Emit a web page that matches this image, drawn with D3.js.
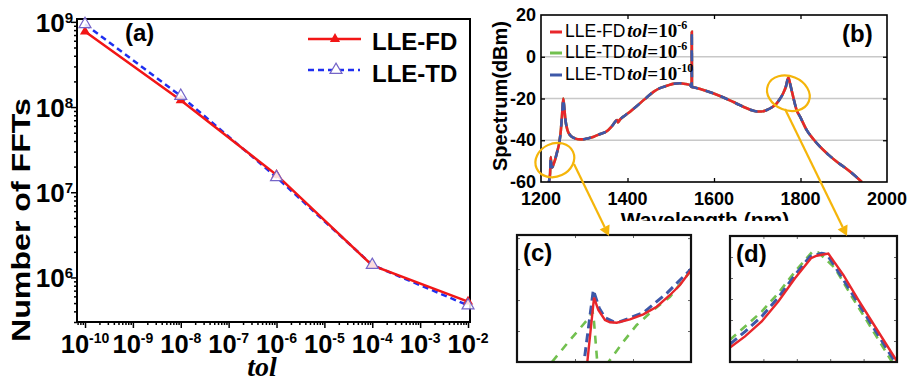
<!DOCTYPE html>
<html><head><meta charset="utf-8">
<script src="https://cdn.jsdelivr.net/npm/d3@7"></script>
<style>
body{margin:0;background:#fff}
svg{display:block}
</style>
</head><body>
<svg id="c" width="907" height="383" font-family="'Liberation Sans',Arial,sans-serif"></svg>
<script>
// ---------- DATA ----------
// panel (a)
const tolValues = [1e-10, 1e-8, 1e-6, 1e-4, 1e-2];
const fftFD = [7.7e8, 1.2e8, 1.6e7, 1.38e6, 5.2e5];
const fftTD = [9.4e8, 1.35e8, 1.5e7, 1.4e6, 4.7e5];
const tolTickExps = [-10, -9, -8, -7, -6, -5, -4, -3, -2];
const fftTickExps = [6, 7, 8, 9];
const seriesA = ["LLE-FD", "LLE-TD"];

// panel (b)
const specWl = [1217,1221,1222.4,1224,1226,1229,1233,1238,1242,1246,1249,1251.5,1254,1257,1261,1267,1275,1285,1295,1310,1322,1337,1352,1365,1376,1378,1383,1395,1406,1421,1440,1460,1475,1491,1505,1521,1535,1545,1548.3,1548.7,1549.1,1552,1570,1598,1622,1645,1660,1676,1690,1700,1710,1722,1735,1745,1753,1760,1766,1772,1776,1780,1784,1791,1799,1814,1830,1845,1865,1884,1900,1915,1942];
const specDb = [-61,-56,-48,-52,-53,-51.5,-49,-45,-41.5,-35,-27,-20,-25,-31,-35,-37.5,-38.8,-39.5,-39.6,-39,-38.3,-37,-35.7,-33,-30.3,-31.5,-30,-28,-26.3,-23.7,-20.3,-16.8,-15,-13.9,-13,-12.7,-13.1,-13.6,-14.5,12,-14.5,-14.6,-15.6,-17.5,-19.5,-21.7,-23.2,-24.7,-25.8,-26.2,-26.2,-25.5,-24.1,-22.3,-20,-17.5,-14.5,-10,-13,-16.5,-20,-25.5,-28.7,-35,-39.5,-43.1,-47,-50.3,-52.7,-55.1,-60];
const specXTicks = [1200, 1400, 1600, 1800, 2000];
const specYTicks = [20, 0, -20, -40, -60];
const specGrid = [0, -20, -40];
const legendB = [["LLE-FD", "-6"], ["LLE-TD", "-6"], ["LLE-TD", "-10"]];

// panel (c) zoom near 1230 nm
const cRedWl = [1231.98,1233.28,1234.02,1235.17,1236.03,1237.19,1239.48,1241.78,1244.09,1246.38,1248.10,1250.0];
const cRedDb = [-62.6,-39.24,-43.21,-46.44,-47.18,-47.31,-46.22,-44.60,-42.15,-38.37,-35.14,-30.4];
const cBlueWl = [1231.38,1231.55,1233.16,1234.19,1235.17,1236.60,1237.76,1241.78,1245.81,1250.0];
const cBlueDb = [-62.6,-60.1,-36.76,-42.67,-45.70,-46.99,-46.99,-44.09,-37.82,-30.0];
const cGreenWl = [1224.83,1225.98,1229.14,1232.59,1233.02,1233.28,1233.84,1234.14,1235.34,1235.74,1238.33,1240.64,1243.50,1246.38,1250.0];
const cGreenDb = [-64.2,-60.1,-52.9,-45.38,-43.54,-47.09,-60.1,-67.4,-67.4,-60.1,-53.45,-48.06,-43.21,-38.92,-30.46];
const cXTicks = [1230, 1240];
const cYTicks = [-50, -40, -30, -20];

// panel (d) zoom near 1770 nm
const dRedWl = [1755,1757.25,1759.75,1762.23,1764.73,1767.13,1767.98,1769.72,1771.96,1774.21,1776.71,1780];
const dRedDb = [-15.31,-14.78,-14.07,-13.12,-12.01,-11.06,-10.94,-10.84,-11.85,-13.04,-14.31,-15.97];
const dBlueWl = [1755,1757.25,1759.75,1762.23,1764.73,1766.98,1768.73,1769.48,1771.21,1773.71,1776.21,1779.70,1780];
const dBlueDb = [-15.15,-14.55,-13.83,-12.93,-11.85,-10.98,-10.82,-10.87,-11.70,-12.96,-14.23,-16.0,-16.2];
const dGreenWl = [1755,1757.25,1759.75,1762.23,1764.73,1767.32,1768.22,1770.72,1773.22,1775.70,1779.21,1780];
const dGreenDb = [-14.94,-14.31,-13.60,-12.72,-11.70,-10.75,-10.78,-11.53,-12.88,-14.15,-15.97,-16.3];
const dXTicks = [1760, 1765, 1770, 1775];
const dYTicks = [-15, -14, -13, -12, -11];

// ---------- STYLE ----------
const RED_A = "#f21616", BLUE_A = "#1f2ff0", PURPLE = "#7565c8";
const RED = "#e8262b", GREEN = "#72c04f", BLUE = "#3d58a8", GOLD = "#f5b50a";
const SERIF = "'Liberation Serif','Times New Roman',serif";

const svg = d3.select("#c");
const defs = svg.append("defs");
function clip(id, x0, y0, x1, y1) {
  defs.append("clipPath").attr("id", id).append("rect")
    .attr("x", x0).attr("y", y0).attr("width", x1 - x0).attr("height", y1 - y0);
}
const zip = (xs, ys) => xs.map((x, i) => [x, ys[i]]);

// ================= PANEL (a) =================
const A = {l: 77, r: 470, t: 19, b: 322};
const ax = d3.scaleLog().domain([6.8e-11, 1.1e-2]).range([A.l, A.r]);
const ay = d3.scaleLog().domain([3e5, 1.08e9]).range([A.b, A.t]);
function minors(scale) {
  const [d0, d1] = scale.domain(), out = [];
  for (let e = Math.floor(Math.log10(d0)); e <= Math.ceil(Math.log10(d1)); e++)
    for (let k = 2; k <= 9; k++) { const v = k * Math.pow(10, e); if (v >= d0 && v <= d1) out.push(v); }
  return out;
}
const gA = svg.append("g");
const axMaj = tolTickExps.map(e => Math.pow(10, e));
const ayMaj = fftTickExps.map(e => Math.pow(10, e));
[[axMaj, 6], [minors(ax), 3]].forEach(([vals, len]) => {
  const g = gA.append("g").attr("transform", `translate(0,${A.b})`)
    .call(d3.axisBottom(ax).tickValues(vals).tickSize(len).tickFormat(""));
  g.select(".domain").remove();
  g.selectAll("line").attr("stroke", "#000").attr("stroke-width", 1.5);
});
[[ayMaj, 6], [minors(ay), 3]].forEach(([vals, len]) => {
  const g = gA.append("g").attr("transform", `translate(${A.l},0)`)
    .call(d3.axisLeft(ay).tickValues(vals).tickSize(len).tickFormat(""));
  g.select(".domain").remove();
  g.selectAll("line").attr("stroke", "#000").attr("stroke-width", 1.5);
});
gA.append("rect").attr("x", A.l).attr("y", A.t).attr("width", A.r - A.l).attr("height", A.b - A.t)
  .attr("fill", "none").attr("stroke", "#000").attr("stroke-width", 2);

tolTickExps.forEach(e => {
  const t = gA.append("text").attr("x", ax(Math.pow(10, e))).attr("y", A.b + 31)
    .attr("text-anchor", "middle").attr("font-weight", "bold").attr("font-size", 25.5);
  t.append("tspan").text("10");
  t.append("tspan").attr("dy", -10).attr("font-size", 14).text(e);
});
fftTickExps.forEach(e => {
  const t = gA.append("text").attr("x", A.l - 4).attr("y", ay(Math.pow(10, e)) + 10)
    .attr("text-anchor", "end").attr("font-weight", "bold").attr("font-size", 26);
  t.append("tspan").text("10");
  t.append("tspan").attr("dy", -9).attr("font-size", 15).text(e);
});
gA.append("text").attr("transform", "translate(30,220) rotate(-90)")
  .attr("text-anchor", "middle").attr("font-weight", "bold").attr("font-size", 26)
  .attr("textLength", 244).attr("lengthAdjust", "spacingAndGlyphs").text("Number of FFTs");
gA.append("text").attr("x", 262).attr("y", 376).attr("text-anchor", "middle")
  .attr("font-family", SERIF).attr("font-style", "italic").attr("font-weight", "bold")
  .attr("font-size", 28).text("tol");
gA.append("text").attr("x", 125).attr("y", 41).attr("font-weight", "bold").attr("font-size", 24).text("(a)");

const lineA = d3.line().x(d => ax(d[0])).y(d => ay(d[1]));
const tdPts = zip(tolValues, fftTD), fdPts = zip(tolValues, fftFD);
gA.append("path").attr("d", lineA(tdPts)).attr("fill", "none").attr("stroke", BLUE_A)
  .attr("stroke-width", 2.5).attr("stroke-dasharray", "6,4");
gA.append("path").attr("d", lineA(fdPts)).attr("fill", "none").attr("stroke", RED_A).attr("stroke-width", 2.5);
const triFill = d3.symbol(d3.symbolTriangle).size(45)();
const triOpen = d3.symbol(d3.symbolTriangle).size(62)();
gA.selectAll(".fd").data(fdPts).join("path").attr("d", triFill)
  .attr("transform", d => `translate(${ax(d[0])},${ay(d[1])})`).attr("fill", RED_A);
gA.selectAll(".td").data(tdPts).join("path").attr("d", triOpen)
  .attr("transform", d => `translate(${ax(d[0])},${ay(d[1])})`)
  .attr("fill", "#fff").attr("fill-opacity", 0.85).attr("stroke", PURPLE).attr("stroke-width", 1.2);

const legA = gA.append("g");
legA.append("line").attr("x1", 308).attr("x2", 361).attr("y1", 39).attr("y2", 39).attr("stroke", RED_A).attr("stroke-width", 2.5);
legA.append("path").attr("d", triFill).attr("transform", "translate(335,39)").attr("fill", RED_A);
legA.append("line").attr("x1", 308).attr("x2", 360).attr("y1", 70).attr("y2", 70).attr("stroke", BLUE_A)
  .attr("stroke-width", 2.5).attr("stroke-dasharray", "6,4");
legA.append("path").attr("d", triOpen).attr("transform", "translate(336,70)")
  .attr("fill", "#fff").attr("stroke", PURPLE).attr("stroke-width", 1.2);
seriesA.forEach((s, i) => legA.append("text").attr("x", 372).attr("y", 50 + i * 32)
  .attr("font-weight", "bold").attr("font-size", 24).text(s));

// ================= PANEL (b) =================
const B = {l: 541, r: 887, t: 15, b: 182};
const bx = d3.scaleLinear().domain([1200, 2000]).range([B.l, B.r]);
const by = d3.scaleLinear().domain([-60, 20]).range([B.b, B.t]);
const gB = svg.append("g");
clip("clipB", B.l, B.t, B.r, B.b);
gB.selectAll(".grid").data(specGrid).join("line")
  .attr("x1", B.l).attr("x2", B.r).attr("y1", d => by(d)).attr("y2", d => by(d))
  .attr("stroke", "#c8c8c8").attr("stroke-width", 1.6);
[[d3.axisBottom(bx), B.t], [d3.axisTop(bx), B.b]].forEach(([ax_, y]) => {
  const g = gB.append("g").attr("transform", `translate(0,${y})`)
    .call(ax_.tickValues(specXTicks.slice(1, -1)).tickSize(4).tickFormat(""));
  g.select(".domain").remove(); g.selectAll("line").attr("stroke", "#000").attr("stroke-width", 1.3);
});
[[d3.axisRight(by), B.l], [d3.axisLeft(by), B.r]].forEach(([ay_, x]) => {
  const g = gB.append("g").attr("transform", `translate(${x},0)`)
    .call(ay_.tickValues(specYTicks.slice(1, -1)).tickSize(4).tickFormat(""));
  g.select(".domain").remove(); g.selectAll("line").attr("stroke", "#000").attr("stroke-width", 1.3);
});
const specPts = zip(specWl, specDb);
const lineB = d3.line().x(d => bx(d[0])).y(d => by(d[1])).curve(d3.curveMonotoneX);
const cg = gB.append("g").attr("clip-path", "url(#clipB)");
cg.append("path").attr("d", lineB(specPts)).attr("fill", "none").attr("stroke", GREEN).attr("stroke-width", 2.6);
cg.append("path").attr("d", lineB(specPts)).attr("fill", "none").attr("stroke", RED).attr("stroke-width", 2.6);
cg.append("path").attr("d", lineB(specPts)).attr("fill", "none").attr("stroke", BLUE).attr("stroke-width", 2.6)
  .attr("stroke-dasharray", "8,8");
gB.append("rect").attr("x", B.l).attr("y", B.t).attr("width", B.r - B.l).attr("height", B.b - B.t)
  .attr("fill", "none").attr("stroke", "#000").attr("stroke-width", 1.6);
specXTicks.forEach(v => gB.append("text").attr("x", bx(v)).attr("y", 205).attr("text-anchor", "middle")
  .attr("font-weight", "bold").attr("font-size", 18).text(v));
specYTicks.forEach(v => gB.append("text").attr("x", 536).attr("y", by(v) + 6).attr("text-anchor", "end")
  .attr("font-weight", "bold").attr("font-size", 18).text(v));
clip("clipXlab", 540, 206, 900, 221);
gB.append("text").attr("x", 705).attr("y", 227).attr("text-anchor", "middle").attr("clip-path", "url(#clipXlab)")
  .attr("font-weight", "bold").attr("font-size", 21).text("Wavelength (nm)");
gB.append("text").attr("transform", "translate(507,96) rotate(-90)").attr("text-anchor", "middle")
  .attr("font-weight", "bold").attr("font-size", 20).text("Spectrum(dBm)");
gB.append("text").attr("x", 842).attr("y", 42).attr("font-weight", "bold").attr("font-size", 24).text("(b)");
const legColors = [RED, GREEN, BLUE];
legendB.forEach(([name, exp], i) => {
  const yy = [32, 53, 75][i], yb = [37, 58, 80][i];
  gB.append("line").attr("x1", 550).attr("x2", 562).attr("y1", yy).attr("y2", yy)
    .attr("stroke", legColors[i]).attr("stroke-width", 3);
  const t = gB.append("text").attr("x", 565).attr("y", yb).attr("font-size", 17.5);
  t.append("tspan").text(name);
  t.append("tspan").attr("dx", 2).attr("font-family", SERIF).attr("font-style", "italic").attr("font-weight", "bold")
    .attr("font-size", 19).text("tol");
  t.append("tspan").attr("font-family", SERIF).attr("font-weight", "bold").attr("font-size", 19).text("=10");
  t.append("tspan").attr("dy", -8).attr("font-family", SERIF).attr("font-weight", "bold").attr("font-size", 12).text(exp);
});

// ================= INSETS =================
function inset(id, box, xd, yd, xt, yt, series, label) {
  const sx = d3.scaleLinear().domain(xd).range([box.l, box.r]);
  const sy = d3.scaleLinear().domain(yd).range([box.b, box.t]);
  const g = svg.append("g");
  clip(id, box.l, box.t, box.r, box.b);
  [[d3.axisBottom(sx), box.t], [d3.axisTop(sx), box.b]].forEach(([a, y]) => {
    const gg = g.append("g").attr("transform", `translate(0,${y})`).call(a.tickValues(xt).tickSize(3).tickFormat(""));
    gg.select(".domain").remove(); gg.selectAll("line").attr("stroke", "#666").attr("stroke-width", 1);
  });
  [[d3.axisRight(sy), box.l], [d3.axisLeft(sy), box.r]].forEach(([a, x]) => {
    const gg = g.append("g").attr("transform", `translate(${x},0)`).call(a.tickValues(yt).tickSize(3).tickFormat(""));
    gg.select(".domain").remove(); gg.selectAll("line").attr("stroke", "#666").attr("stroke-width", 1);
  });
  const ln = d3.line().x(d => sx(d[0])).y(d => sy(d[1]));
  const cg = g.append("g").attr("clip-path", `url(#${id})`);
  series.forEach(s => cg.append("path").attr("d", ln(s.pts)).attr("fill", "none")
    .attr("stroke", s.color).attr("stroke-width", s.w).attr("stroke-dasharray", s.dash || null));
  g.append("rect").attr("x", box.l).attr("y", box.t).attr("width", box.r - box.l).attr("height", box.b - box.t)
    .attr("fill", "none").attr("stroke", "#111").attr("stroke-width", 2.2);
  g.append("text").attr("x", box.l + 6).attr("y", box.t + 26).attr("font-weight", "bold").attr("font-size", 24).text(label);
}
inset("clipC", {l: 517, r: 691, t: 235, b: 362}, [1220, 1250], [-60, -19], cXTicks, cYTicks, [
  {pts: zip(cGreenWl, cGreenDb), color: GREEN, w: 2.6, dash: "8,7"},
  {pts: zip(cBlueWl, cBlueDb), color: BLUE, w: 3, dash: "9,5"},
  {pts: zip(cRedWl, cRedDb), color: RED, w: 2.4}
], "(c)");
inset("clipD", {l: 730, r: 897, t: 236, b: 362}, [1755, 1780], [-16, -10], dXTicks, dYTicks, [
  {pts: zip(dGreenWl, dGreenDb), color: GREEN, w: 2.6, dash: "8,6"},
  {pts: zip(dBlueWl, dBlueDb), color: BLUE, w: 3, dash: "9,5"},
  {pts: zip(dRedWl, dRedDb), color: RED, w: 2.4}
], "(d)");

// ================= ANNOTATIONS =================
const gN = svg.append("g");
[[1232, -49.5, 20, 16.5, -25], [1772, -17.5, 22, 17, 22]].forEach(([w, d, rx, ry, rot]) => {
  gN.append("ellipse").attr("transform", `translate(${bx(w)},${by(d)}) rotate(${rot})`)
    .attr("rx", rx).attr("ry", ry).attr("fill", "none").attr("stroke", GOLD).attr("stroke-width", 2.2);
});
function arrow(x0, y0, x1, y1) {
  const L = Math.hypot(x1 - x0, y1 - y0), ux = (x1 - x0) / L, uy = (y1 - y0) / L;
  const bxp = x1 - 10 * ux, byp = y1 - 10 * uy, nx = -uy, ny = ux;
  gN.append("line").attr("x1", x0).attr("y1", y0).attr("x2", bxp).attr("y2", byp)
    .attr("stroke", GOLD).attr("stroke-width", 2.2);
  gN.append("polygon").attr("points", [[x1, y1], [bxp + 5.5 * nx, byp + 5.5 * ny], [bxp - 5.5 * nx, byp - 5.5 * ny]].join(" "))
    .attr("fill", GOLD);
}
arrow(574, 164, 609, 236);
arrow(785, 109, 847, 236);
</script>
</body></html>
